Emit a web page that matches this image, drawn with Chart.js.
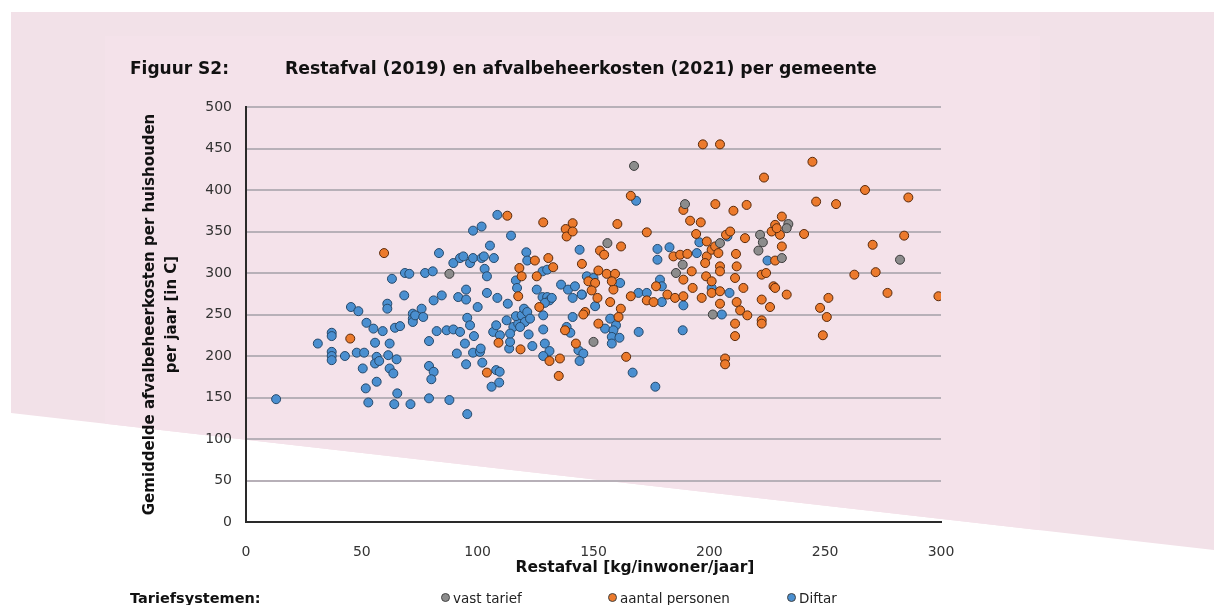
<!DOCTYPE html>
<html>
<head>
<meta charset="utf-8">
<script src="https://cdn.jsdelivr.net/npm/chart.js@4.4.1/dist/chart.umd.min.js"></script>
<style>
    body { margin: 0; background: #fff; }
    #wrap { position: relative; width: 1214px; height: 605px; overflow: hidden; font-family: "DejaVu Sans", sans-serif; }
    #chart { position: absolute; left: 0; top: 0; }
    .lbl { position: absolute; white-space: nowrap; color: #111; }
    .dot { display: inline-block; width: 7px; height: 7px; border-radius: 50%; border: 1px solid #444; margin-right: 3px; vertical-align: 1px; }
</style>
</head>
<body>
<div id="wrap">
    <canvas id="chart" width="1214" height="605"></canvas>
    <div class="lbl" style="left:130px; top:58px; font-size:17px; font-weight:bold;">Figuur S2:</div>
    <div class="lbl" style="left:285px; top:58px; font-size:17.3px; font-weight:bold;">Restafval (2019) en afvalbeheerkosten (2021) per gemeente</div>
    <div class="lbl" style="left:635px; top:558px; transform:translateX(-50%); font-size:15.5px; font-weight:bold;">Restafval [kg/inwoner/jaar]</div>
    <div class="lbl" style="left:130px; top:590px; font-size:14.5px; font-weight:bold;">Tariefsystemen:</div>
    <div class="lbl" style="left:441px; top:590px; font-size:13.5px; color:#222;"><span class="dot" style="background:#8c8c8c"></span>vast tarief</div>
    <div class="lbl" style="left:608px; top:590px; font-size:13.5px; color:#222;"><span class="dot" style="background:#ec7a2c"></span>aantal personen</div>
    <div class="lbl" style="left:787px; top:590px; font-size:13.5px; color:#222;"><span class="dot" style="background:#4a8fd0"></span>Diftar</div>
</div>
<script>
// Restafval [kg/inwoner/jaar], kosten [euro] per gemeente, per tariefsysteem
const vastTarief = [
    [87.8,299],[150,217],[156,336],[167.5,429],[185.6,300],[188.5,310],[189.5,383],[201.5,250],
    [204.6,336],[221.9,346],[223.1,337],[221.2,327],[234.1,359],[233.4,354],[231.3,318],[282.3,316]
];
const aantalPersonen = [
    [45,221],[59.6,324],[104,180],[109,216],[112.8,369],[117.5,272],[118,306],[119,296],[118.5,208],
    [124.7,315],[125.5,296],[126.6,259],[128.3,361],[130.5,318],[132.6,307],[131,194],[135.5,197],
    [135,176],[137.7,231],[138,353],[141,360],[138.4,344],[141,350],[142.4,215],[145,311],
    [197.2,455],[204.6,455],[166.1,393],[160.3,359],[173,349],[161.9,332],[152.8,327],[154.6,322],
    [147.8,290],[150.7,288],[152.1,303],[155.7,299],[159.3,299],[158.6,280],[157.9,290],[149.2,279],
    [151.7,270],[157.2,265],[161.8,257],[160.8,247],[146.4,253],[145.6,250],[152.1,239],[164.1,199],
    [166.1,272],[173,267],[175.9,265],[177,284],[184.5,320],[187.4,322],[190.5,323],[181.9,274],
    [185.2,270],[188.8,272],[188.8,292],[192.4,302],[192.8,282],[188.8,376],[191.7,363],[196.3,361],
    [194.3,347],[198.9,338],[198.9,320],[201,328],[202.5,332],[198.2,312],[198.6,296],[201,290],
    [196.7,270],[201,276],[204.6,278],[204.6,263],[206.8,197],[206.8,190],[202.6,383],[210.4,375],
    [216.1,382],[207.2,346],[209,350],[203.9,324],[211.5,323],[211.8,308],[204.6,308],[204.6,302],
    [211.1,294],[214.7,282],[211.8,265],[213.3,255],[216.4,249],[211.1,239],[211.1,224],[215.4,342],
    [223.6,415],[226.9,350],[228.4,358],[231.3,368],[230.5,346],[229.1,354],[231.3,332],[228.4,315],
    [222.6,298],[224.5,300],[227.7,284],[228.4,282],[233.4,274],[222.6,268],[226.2,259],[222.6,243],
    [222.6,239],[240.9,347],[244.5,434],[246.1,386],[254.7,383],[247.8,258],[251.4,270],[250.7,247],
    [249,225],[267.2,400],[285.9,391],[270.5,334],[284.1,345],[262.6,298],[271.8,301],[276.9,276],
    [298.9,272]
];
const diftar = [
    [13,148],[31,215],[37,228],[37,224],[37,205],[37,200],[37,195],[42.7,200],[45.3,259],[48.5,254],
    [47.8,204],[51,204],[50.4,185],[51.7,161],[52.8,144],[52,240],[55,233],[59,230],[55.7,216],
    [56.4,199],[55.7,191],[57.5,194],[56.4,169],[63,293],[61,263],[61,257],[62,215],[61.4,201],
    [65,196],[62,185],[63.6,179],[65.3,155],[64,142],[71,142],[68.6,300],[70.5,299],[68.3,273],
    [64.3,234],[66.5,236],[72,251],[72,245],[72,241],
    [77.3,300],[80.6,302],[83.3,324],[73,249],[75.8,257],[76.5,247],[79,149],[87.8,147],[95.5,130],
    [79,188],[81,181],[80,172],[79,218],[82.3,230],[86.6,231],[89.5,232],[92.4,229],[81,267],
    [84.5,273],[91.6,271],[95,280],[95,268],[91,203],[95,190],[94.5,215],[95.5,246],[96.7,237],
    [98.4,224],[98,204],[101,205],[101.3,209],[102,192],[100,259],[104,276],[108.5,270],[113,263],
    [89.5,312],[92.4,318],[93.8,320],[96.7,312],[98,318],[101.7,318],[102.7,320],[103,305],[104,296],
    [107,318],[105.3,333],[98,351],[101.7,356],[108.5,370],[114.4,345],[108,183],[109.5,181],
    [106,163],[109.3,168],[106.7,229],[108,237],[109.6,225],[113.6,209],[114,217],[112.5,243],
    [115.4,235],[117.5,239],[116.5,248],[119,249],[120,257],[121.4,253],[120.4,241],[118.3,235],
    [122.6,245],[114,227],[122,226],[123.6,212],[128.3,249],[125.5,280],[128,271],[130,271],
    [131,267],[129,264],[132,270],[128,302],[130,304],[121,325],[121.4,315],[116.5,291],[117,282],
    [128.3,232],[129,215],[131,206],[128.3,200],[144,328],[136,286],[139,280],[141,270],[142,284],
    [145,274],[141,247],[138.4,235],[140,228],[143.5,207],[145.6,203],[144,194],
    [147.1,296],[150,294],[161.5,288],[144.9,274],[150.7,260],[157.2,245],[159.7,237],[155,233],
    [158.6,231],[157.9,223],[161.2,222],[157.9,215],[166.9,180],[176.7,163],[169.5,229],[188.5,231],
    [169.4,276],[173,276],[179.5,265],[178.7,292],[179.5,284],[177.6,329],[177.6,316],[182.8,331],
    [188.8,261],[168.4,387],[195.7,337],[194.6,324],[201,282],[208.7,276],[205.4,250],[207.8,344],
    [225.1,315]
];
const xTicks = { min: 0, max: 300, step: 50 };
const yTicks = { min: 0, max: 500, step: 50 };

const toPoints = rows => rows.map(r => ({ x: r[0], y: r[1] }));

/*
   Background: pink sheet with slanted lower edge, as in the scanned page.
*/
const pageBackground = {
    id: 'pageBackground',
    beforeDraw(chart) {
        const ctx = chart.ctx;
        ctx.save();
        ctx.fillStyle = '#ffffff';
        ctx.fillRect(0, 0, chart.width, chart.height);
        ctx.beginPath();
        ctx.moveTo(11, 12);
        ctx.lineTo(1214, 12);
        ctx.lineTo(1214, 550);
        ctx.lineTo(11, 413);
        ctx.closePath();
        ctx.fillStyle = '#f2e1e8';
        ctx.fill();
        ctx.clip();
        ctx.fillStyle = '#f4e2ea';
        ctx.fillRect(105, 36, 935, 600);
        ctx.restore();
    }
};

const tickFont = { family: 'DejaVu Sans', size: 14 };

new Chart(document.getElementById('chart'), {
    type: 'scatter',
    data: {
        datasets: [
            { label: 'vast tarief', data: toPoints(vastTarief), backgroundColor: '#8c8c8c', borderColor: '#3c3c3c' },
            { label: 'aantal personen', data: toPoints(aantalPersonen), backgroundColor: '#ec7a2c', borderColor: '#5a2a0c' },
            { label: 'Diftar', data: toPoints(diftar), backgroundColor: '#4a8fd0', borderColor: '#26496b' }
        ]
    },
    options: {
        responsive: false,
        animation: false,
        elements: { point: { radius: 4.5, borderWidth: 1 } },
        layout: { padding: { left: 139, right: 273, top: 107, bottom: 25 } },
        plugins: { legend: { display: false }, tooltip: { enabled: false } },
        scales: {
            x: {
                type: 'linear',
                min: xTicks.min, max: xTicks.max,
                ticks: { stepSize: xTicks.step, color: '#333', font: tickFont, padding: 14 },
                grid: { display: false },
                border: { display: true, color: '#2a2a2a', width: 2 },
                afterFit: s => { s.height = 58; }
            },
            y: {
                min: yTicks.min, max: yTicks.max,
                ticks: { stepSize: yTicks.step, color: '#333', font: tickFont, padding: 14 },
                grid: {
                    drawTicks: false,
                    lineWidth: 2,
                    color: c => (c.tick && c.tick.value === 0) ? 'rgba(0,0,0,0)' : '#b7b0b8'
                },
                border: { display: true, color: '#2a2a2a', width: 2 },
                title: {
                    display: true,
                    text: ['Gemiddelde afvalbeheerkosten per huishouden', 'per jaar [in C]'],
                    color: '#111',
                    font: { family: 'DejaVu Sans', size: 15, weight: 'bold', lineHeight: 1.47 },
                    padding: { top: 0, bottom: 0 }
                },
                afterFit: s => { s.width = 107; }
            }
        }
    },
    plugins: [pageBackground]
});
</script>
</body>
</html>
